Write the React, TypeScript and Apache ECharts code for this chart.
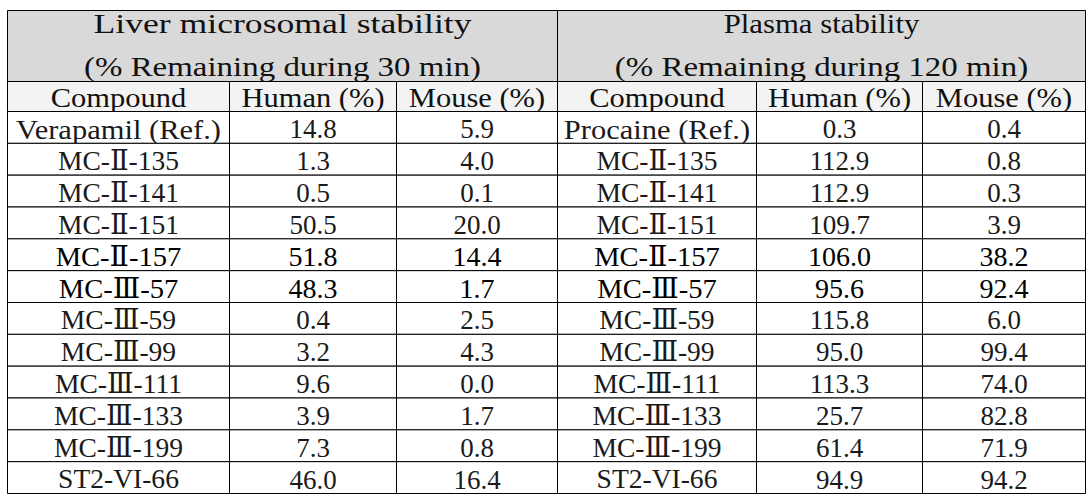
import React, { useEffect, useRef } from "react";
import * as echarts from "echarts";

// ---- Data ----
const liverTitle = ["Liver microsomal stability", "(% Remaining during 30 min)"];
const plasmaTitle = ["Plasma stability", "(% Remaining during 120 min)"];
const columnHeaders = ["Compound", "Human (%)", "Mouse (%)", "Compound", "Human (%)", "Mouse (%)"];

const liverCompounds = [
  "Verapamil (Ref.)", "MC-Ⅱ-135", "MC-Ⅱ-141", "MC-Ⅱ-151", "MC-Ⅱ-157", "MC-Ⅲ-57",
  "MC-Ⅲ-59", "MC-Ⅲ-99", "MC-Ⅲ-111", "MC-Ⅲ-133", "MC-Ⅲ-199", "ST2-VI-66",
];
const liverHuman = [14.8, 1.3, 0.5, 50.5, 51.8, 48.3, 0.4, 3.2, 9.6, 3.9, 7.3, 46.0];
const liverMouse = [5.9, 4.0, 0.1, 20.0, 14.4, 1.7, 2.5, 4.3, 0.0, 1.7, 0.8, 16.4];

const plasmaCompounds = [
  "Procaine (Ref.)", "MC-Ⅱ-135", "MC-Ⅱ-141", "MC-Ⅱ-151", "MC-Ⅱ-157", "MC-Ⅲ-57",
  "MC-Ⅲ-59", "MC-Ⅲ-99", "MC-Ⅲ-111", "MC-Ⅲ-133", "MC-Ⅲ-199", "ST2-VI-66",
];
const plasmaHuman = [0.3, 112.9, 112.9, 109.7, 106.0, 95.6, 115.8, 95.0, 113.3, 25.7, 61.4, 94.9];
const plasmaMouse = [0.4, 0.8, 0.3, 3.9, 38.2, 92.4, 6.0, 99.4, 74.0, 82.8, 71.9, 94.2];

const emphasizedRows = [4, 5];

// ---- Layout (table units = pixels inside the grid) ----
const TABLE_W = 1078;
const TABLE_H = 483;
const colEdges = [0, 222, 389, 550, 749, 915, 1078];
const titleBottom = 71;
const headerBottom = 101;
const titleLineOffset = 21;

const FONT = "'Liberation Serif', 'DejaVu Serif', 'Times New Roman', serif";

type Line = { text: string; dy: number; scaleX: number };
type Cell = {
  value: [number, number, number, number];
  lines: Line[];
  fill: string;
  size: number;
  color: string;
};

function buildCells(): Cell[] {
  const cells: Cell[] = [];
  const nRows = liverCompounds.length;
  const rowH = (TABLE_H - headerBottom) / nRows;
  const titles = [liverTitle, plasmaTitle];
  titles.forEach((t, i) => {
    cells.push({
      value: [colEdges[i * 3], colEdges[i * 3 + 3], 0, titleBottom],
      lines: [
        { text: t[0], dy: -titleLineOffset - 1, scaleX: i === 0 ? 1.32 : 1.14 },
        { text: t[1], dy: titleLineOffset, scaleX: 1.22 },
      ],
      fill: "#d9d9d9",
      size: 27,
      color: "#111",
    });
  });
  columnHeaders.forEach((h, c) => {
    cells.push({
      value: [colEdges[c], colEdges[c + 1], titleBottom, headerBottom],
      lines: [{ text: h, dy: 1, scaleX: 1.13 }],
      fill: "#f3f3f3",
      size: 27,
      color: "#111",
    });
  });
  const columns: string[][] = [
    liverCompounds,
    liverHuman.map((v) => v.toFixed(1)),
    liverMouse.map((v) => v.toFixed(1)),
    plasmaCompounds,
    plasmaHuman.map((v) => v.toFixed(1)),
    plasmaMouse.map((v) => v.toFixed(1)),
  ];
  for (let r = 0; r < nRows; r++) {
    const y0 = headerBottom + r * rowH;
    const emph = emphasizedRows.indexOf(r) >= 0;
    for (let c = 0; c < 6; c++) {
      const text = columns[c][r];
      const isName = c % 3 === 0;
      // the source font has very wide spaces, so names with spaces are stretched more
      const sx = isName ? (text.indexOf(" ") >= 0 ? 1.13 : 1.02) : 1.0;
      cells.push({
        value: [colEdges[c], colEdges[c + 1], y0, y0 + rowH],
        lines: [{ text, dy: 2, scaleX: sx }],
        fill: "#ffffff",
        size: emph ? 28 : 27,
        color: emph ? "#000" : "#1a1a1a",
      });
    }
  }
  return cells;
}

export default function App() {
  const ref = useRef<HTMLDivElement>(null);
  useEffect(() => {
    if (!ref.current) return;
    const chart = echarts.init(ref.current, undefined, { renderer: "svg" });
    const cells = buildCells();
    chart.setOption({
      animation: false,
      backgroundColor: "#ffffff",
      grid: { left: 7.5, top: 10.5, width: TABLE_W, height: TABLE_H, containLabel: false },
      xAxis: { type: "value", min: 0, max: TABLE_W, show: false },
      yAxis: { type: "value", min: 0, max: TABLE_H, inverse: true, show: false },
      series: [
        {
          type: "custom",
          coordinateSystem: "cartesian2d",
          data: cells.map((c) => ({ value: c.value })),
          encode: { x: [0, 1], y: [2, 3] },
          renderItem: (params: any, api: any) => {
            const cell = cells[params.dataIndex];
            const p0 = api.coord([api.value(0), api.value(2)]);
            const p1 = api.coord([api.value(1), api.value(3)]);
            const x = p0[0];
            const y = p0[1];
            const w = p1[0] - p0[0];
            const h = p1[1] - p0[1];
            const children: any[] = [
              {
                type: "rect",
                shape: { x, y, width: w, height: h },
                style: { fill: cell.fill, stroke: "#000", lineWidth: 1 },
              },
            ];
            cell.lines.forEach((ln) => {
              children.push({
                type: "text",
                x: x + w / 2,
                y: y + h / 2 + ln.dy,
                scaleX: ln.scaleX,
                style: {
                  text: ln.text,
                  fill: cell.color,
                  font: `${cell.size}px ${FONT}`,
                  align: "center",
                  verticalAlign: "middle",
                },
              });
            });
            return { type: "group", children };
          },
        },
      ],
    });
    return () => chart.dispose();
  }, []);
  return (
    <div
      ref={ref}
      style={{ position: "fixed", left: 0, top: 0, width: 1092, height: 503, background: "#fff" }}
    />
  );
}
